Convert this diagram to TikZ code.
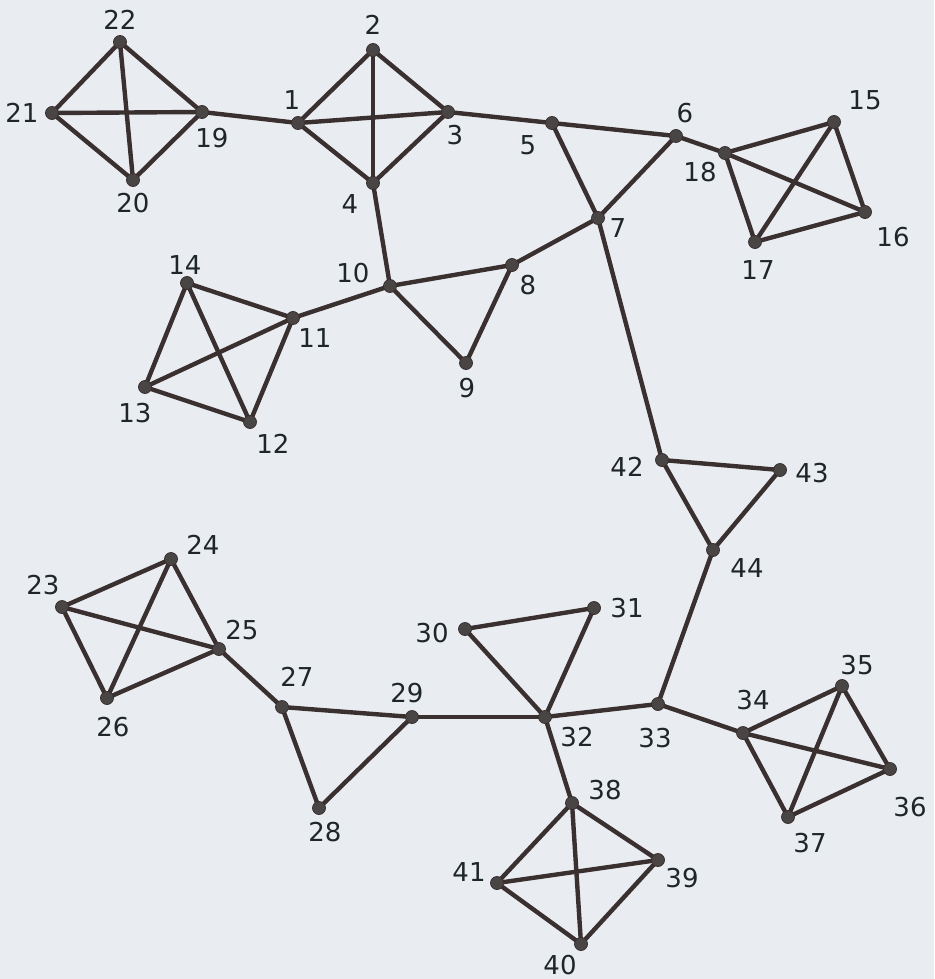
\documentclass[tikz,border=0pt]{standalone}
\usepackage{fontspec}
\setmainfont{DejaVu Sans}
\definecolor{bg}{HTML}{E9EDF1}
\definecolor{edgec}{HTML}{3A3030}
\definecolor{dotc}{HTML}{4A4545}
\definecolor{txtc}{HTML}{1E2626}
\begin{document}
\begin{tikzpicture}[x=1pt,y=-1pt,
  vtx/.style={circle,fill=dotc,draw=edgec,line width=0.8pt,minimum size=13pt,inner sep=0pt},
  lab/.style={text=txtc,font=\fontsize{26}{26}\selectfont,inner sep=0pt},
  edge/.style={draw=edgec,line width=4.4pt,line cap=round}]
\fill[bg] (0,0) rectangle (934,979);
\useasboundingbox (0,0) rectangle (934,979);
% vertices
\foreach \n/\x/\y in {
 1/298/123, 2/373/50, 3/448/112, 4/373/183, 5/552/123, 6/676/136, 7/598/218,
 8/512/265, 9/466/363, 10/390/286, 11/293/318, 12/250/422, 13/145/387, 14/187/283,
 15/834/122, 16/865/212, 17/755/242, 18/725/153, 19/202/112, 20/133/180,
 21/52/113, 22/120/42, 23/62/607, 24/171/559, 25/219/649, 26/107/698,
 27/282/707, 28/319/808, 29/412/717, 30/465/629, 31/594/608, 32/545/717,
 33/658/704, 34/743/733, 35/842/686, 36/890/769, 37/788/817, 38/572/803,
 39/658/860, 40/581/944, 41/497/883, 42/662/460, 43/780/470, 44/713/550}
 \coordinate (v\n) at (\x,\y);
% edges
\foreach \a/\b in {
 19/20,19/21,19/22,20/21,20/22,21/22, 19/1,
 1/2,1/3,1/4,2/3,2/4,3/4, 3/5,5/6,5/7,6/7,6/18,
 15/16,15/17,15/18,16/17,16/18,17/18,
 4/10,10/8,8/7,10/9,9/8,10/11,
 11/12,11/13,11/14,12/13,12/14,13/14,
 7/42,42/43,42/44,43/44,44/33,
 33/32,33/34, 34/35,34/36,34/37,35/36,35/37,36/37,
 32/30,32/31,30/31,32/29,32/38,
 29/27,29/28,27/28,27/25,
 23/24,23/25,23/26,24/25,24/26,25/26,
 38/39,38/40,38/41,39/40,39/41,40/41}
 \draw[edge] (v\a) -- (v\b);
\foreach \n in {1,...,44} \node[vtx] (n\n) at (v\n) {};
% labels
\foreach \n/\x/\y in {
 1/292/100, 2/373/25, 3/455/135, 4/350/204, 5/528/145, 6/685/113, 7/618/228,
 8/528/285, 9/467/388, 10/353/273, 11/315/338, 12/273/444, 13/135/413, 14/185/265,
 15/865/100, 16/893/237, 17/758/270, 18/700/172, 19/212/138, 20/133/203,
 21/22/113, 22/120/20, 23/43/585, 24/203/545, 25/242/630, 26/113/727,
 27/297/677, 28/325/832, 29/407/693, 30/432/633, 31/627/608, 32/577/737,
 33/655/738, 34/753/700, 35/857/665, 36/910/807, 37/810/843, 38/605/790,
 39/682/878, 40/560/965, 41/469/872, 42/627/467, 43/812/473, 44/747/568}
 \node[lab] (l\n) at (\x,\y) {\n};
\end{tikzpicture}
\end{document}
